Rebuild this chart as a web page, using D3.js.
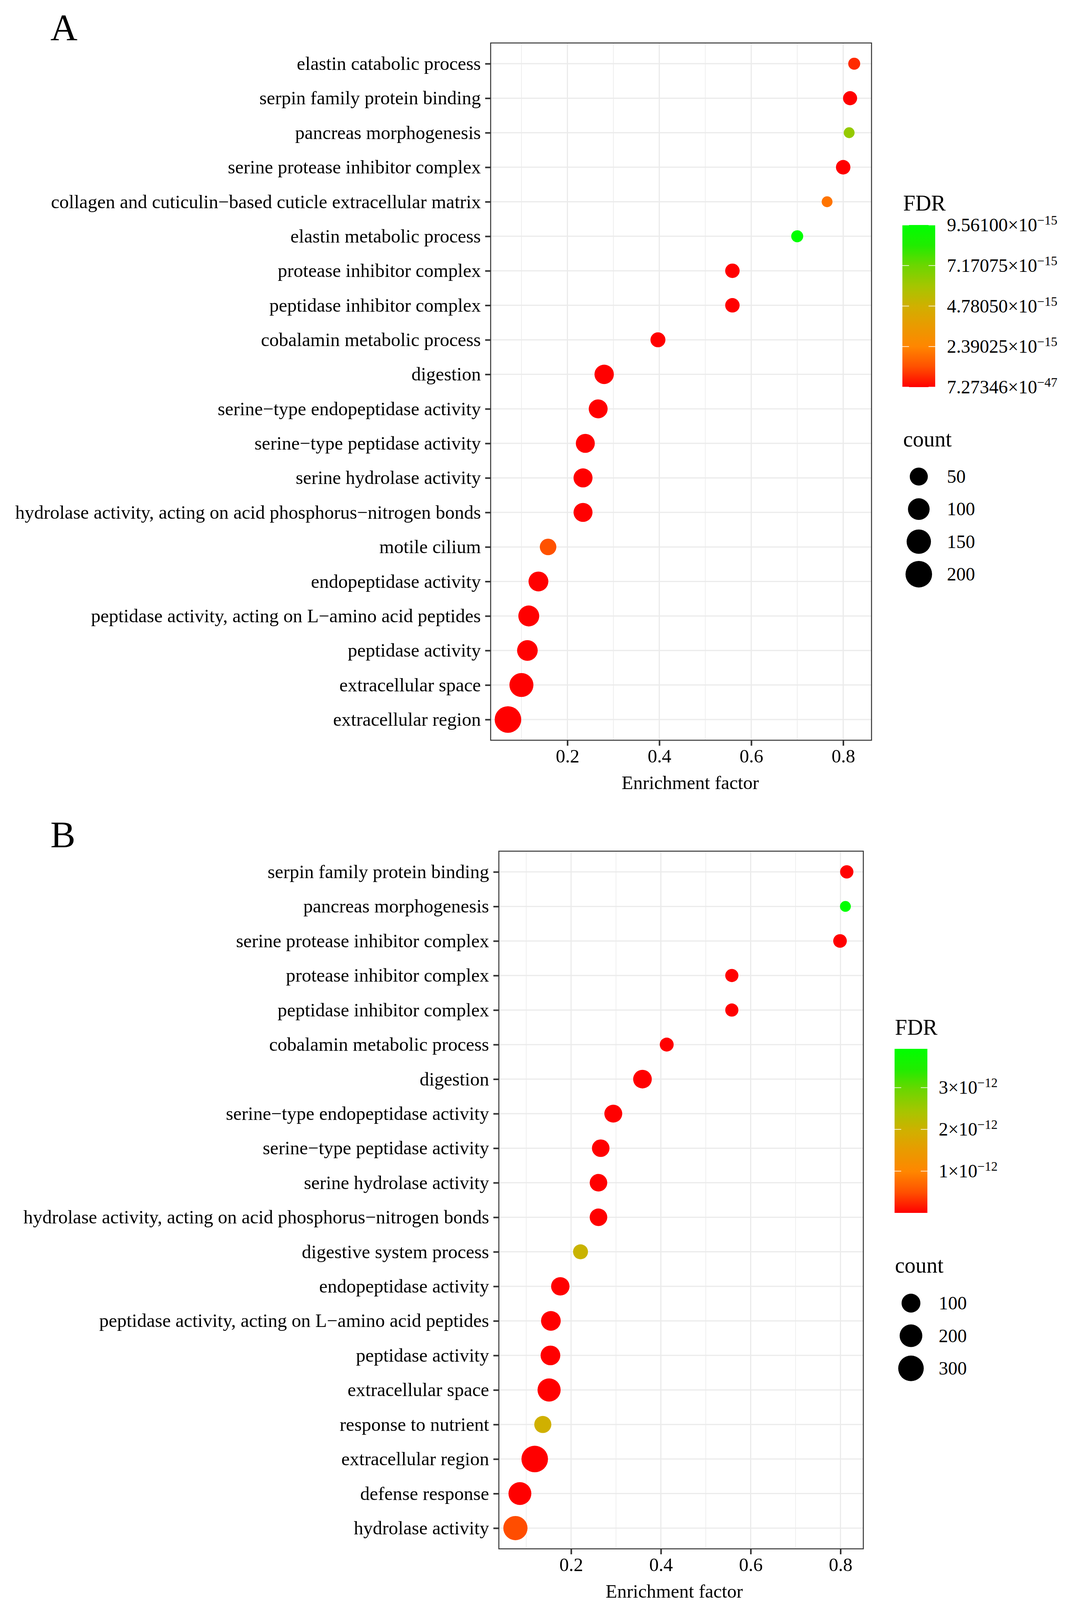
<!DOCTYPE html>
<html>
<head>
<meta charset="utf-8">
<script src="https://cdn.jsdelivr.net/npm/d3@7"></script>
<style>
html, body { margin: 0; padding: 0; background: #fff; }
svg text { font-family: "Liberation Serif", "Times New Roman", serif; fill: #000; }
</style>
</head>
<body>
<svg id="chart" width="2757" height="4123"></svg>
<script>
// ---- panel A data ----
var termsA = [
  "elastin catabolic process",
  "serpin family protein binding",
  "pancreas morphogenesis",
  "serine protease inhibitor complex",
  "collagen and cuticulin\u2212based cuticle extracellular matrix",
  "elastin metabolic process",
  "protease inhibitor complex",
  "peptidase inhibitor complex",
  "cobalamin metabolic process",
  "digestion",
  "serine\u2212type endopeptidase activity",
  "serine\u2212type peptidase activity",
  "serine hydrolase activity",
  "hydrolase activity, acting on acid phosphorus\u2212nitrogen bonds",
  "motile cilium",
  "endopeptidase activity",
  "peptidase activity, acting on L\u2212amino acid peptides",
  "peptidase activity",
  "extracellular space",
  "extracellular region"
];
var enrichA = [0.824, 0.815, 0.813, 0.800, 0.765, 0.700, 0.559, 0.559, 0.397, 0.280,
               0.267, 0.239, 0.234, 0.234, 0.158, 0.137, 0.116, 0.113, 0.100, 0.0707];
var countA = [11, 18, 10, 20, 10, 11, 20, 20, 23, 66,
              60, 61, 61, 61, 35, 72, 88, 84, 143, 200];
var fdrA = [0.62e-15, 2.1e-30, 6.3e-15, 5.4e-32, 2.0e-15, 9.561e-15, 3.2e-29, 3.2e-29, 1.5e-28, 4.1e-40,
            2.6e-36, 8.8e-35, 1.9e-34, 1.9e-34, 1.24e-15, 1.1e-31, 6.3e-33, 3.4e-31, 5.0e-42, 7.27346e-47];
var fdrTicksA = [7.27346e-47, 2.39025e-15, 4.78050e-15, 7.17075e-15, 9.56100e-15];
var fdrLabelsA = [["7.27346", "\u221247"], ["2.39025", "\u221215"], ["4.78050", "\u221215"],
                  ["7.17075", "\u221215"], ["9.56100", "\u221215"]];
var countTicksA = [50, 100, 150, 200];

// ---- panel B data ----
var termsB = [
  "serpin family protein binding",
  "pancreas morphogenesis",
  "serine protease inhibitor complex",
  "protease inhibitor complex",
  "peptidase inhibitor complex",
  "cobalamin metabolic process",
  "digestion",
  "serine\u2212type endopeptidase activity",
  "serine\u2212type peptidase activity",
  "serine hydrolase activity",
  "hydrolase activity, acting on acid phosphorus\u2212nitrogen bonds",
  "digestive system process",
  "endopeptidase activity",
  "peptidase activity, acting on L\u2212amino acid peptides",
  "peptidase activity",
  "extracellular space",
  "response to nutrient",
  "extracellular region",
  "defense response",
  "hydrolase activity"
];
var enrichB = [0.814, 0.811, 0.799, 0.558, 0.558, 0.413, 0.359, 0.294, 0.266, 0.261,
               0.261, 0.221, 0.176, 0.155, 0.154, 0.151, 0.137, 0.119, 0.086, 0.076];
var countB = [24, 16, 26, 23, 23, 28, 96, 81, 75, 75,
              75, 38, 91, 119, 119, 214, 67, 340, 205, 250];
var fdrB = [1.6e-25, 3.93e-12, 4.1e-27, 2.2e-19, 2.2e-19, 7.5e-20, 3.0e-45, 1.2e-33, 6.6e-30, 1.4e-29,
            1.4e-29, 2.04e-12, 8.0e-26, 2.3e-28, 5.5e-28, 1.0e-48, 1.97e-12, 3.1e-50, 6.4e-20, 0.47e-12];
var fdrTicksB = [1e-12, 2e-12, 3e-12];
var fdrLabelsB = [["1", "\u221212"], ["2", "\u221212"], ["3", "\u221212"]];
var countTicksB = [100, 200, 300];

var xTicks = [0.2, 0.4, 0.6, 0.8];
var xMinor = [0.1, 0.3, 0.5, 0.7];

// low -> high FDR colour ramp
var fdrPalette = ["#ff0000", "#ff5000", "#ff8600", "#ea9a00", "#d0b000", "#a4c600", "#6cd600", "#20ec00", "#00ff00"];

var svg = d3.select("#chart");

function drawPanel(p) {
  var rows = p.terms.map(function(t, i) {
    return { term: t, x: p.enrich[i], count: p.count[i], fdr: p.fdr[i] };
  });

  var ext = d3.extent(p.enrich), pad = (ext[1] - ext[0]) * 0.05;
  var x = d3.scaleLinear().domain([ext[0] - pad, ext[1] + pad]).range([p.left, p.right]);
  var y = d3.scalePoint().domain(p.terms).range([p.top, p.bottom]).padding(0.6);

  var cExt = d3.extent(p.count);
  var size = d3.scaleSqrt().domain([0, cExt[1] - cExt[0]]).range([13.9, 34]);
  var rad = function(c) { return size(c - cExt[0]); };

  var fExt = d3.extent(p.fdr);
  var stops = fdrPalette.map(function(c, i) { return fExt[0] + i / (fdrPalette.length - 1) * (fExt[1] - fExt[0]); });
  var color = d3.scaleLinear().domain(stops).range(fdrPalette).interpolate(d3.interpolateRgb);

  var g = svg.append("g");

  // panel letter
  g.append("text").attr("x", p.letter[0]).attr("y", p.letter[1])
    .style("font-size", "96px").text(p.name);

  // grid
  g.selectAll(".minor").data(xMinor.filter(function(v) { return x(v) > p.left && x(v) < p.right; }))
    .enter().append("line")
    .attr("x1", function(d) { return x(d); }).attr("x2", function(d) { return x(d); })
    .attr("y1", p.top).attr("y2", p.bottom)
    .attr("stroke", "#ebebeb").attr("stroke-width", 1.6);
  g.selectAll(".majx").data(xTicks).enter().append("line")
    .attr("x1", function(d) { return x(d); }).attr("x2", function(d) { return x(d); })
    .attr("y1", p.top).attr("y2", p.bottom)
    .attr("stroke", "#ebebeb").attr("stroke-width", 3);
  g.selectAll(".majy").data(p.terms).enter().append("line")
    .attr("x1", p.left).attr("x2", p.right)
    .attr("y1", function(d) { return y(d); }).attr("y2", function(d) { return y(d); })
    .attr("stroke", "#ebebeb").attr("stroke-width", 3);

  // points
  g.selectAll(".dot").data(rows).enter().append("circle")
    .attr("cx", function(d) { return x(d.x); })
    .attr("cy", function(d) { return y(d.term); })
    .attr("r", function(d) { return rad(d.count); })
    .attr("fill", function(d) { return color(d.fdr); });

  // border
  g.append("rect").attr("x", p.left).attr("y", p.top)
    .attr("width", p.right - p.left).attr("height", p.bottom - p.top)
    .attr("fill", "none").attr("stroke", "#333333").attr("stroke-width", 2.5);

  // axes
  var ax = g.append("g").attr("transform", "translate(0," + p.bottom + ")")
    .call(d3.axisBottom(x).tickValues(xTicks).tickSize(14).tickPadding(9).tickFormat(d3.format(".1f")));
  var ay = g.append("g").attr("transform", "translate(" + p.left + ",0)")
    .call(d3.axisLeft(y).tickSize(14).tickPadding(11));
  [ax, ay].forEach(function(a) {
    a.select(".domain").remove();
    a.selectAll(".tick line").attr("stroke", "#333333").attr("stroke-width", 4);
    a.selectAll(".tick text").attr("fill", "#000")
      .style("font-family", "'Liberation Serif', 'Times New Roman', serif")
      .style("font-size", "48.5px");
  });

  g.append("text").attr("x", p.xTitleX).attr("y", p.bottom + 125)
    .attr("text-anchor", "middle").style("font-size", "48.5px").text("Enrichment factor");

  // colour bar legend
  var L = p.legend;
  g.append("text").attr("x", L.titleX).attr("y", L.fdrTitleY).style("font-size", "56px").text("FDR");
  var gradId = "grad" + p.name;
  var grad = svg.append("defs").append("linearGradient").attr("id", gradId)
    .attr("x1", 0).attr("y1", 1).attr("x2", 0).attr("y2", 0);
  d3.range(41).forEach(function(i) {
    var t = i / 40;
    grad.append("stop").attr("offset", t).attr("stop-color", color(fExt[0] + t * (fExt[1] - fExt[0])));
  });
  var barY = d3.scaleLinear().domain(fExt).range([L.barBottom, L.barTop]);
  g.append("rect").attr("x", L.barX).attr("y", L.barTop)
    .attr("width", 84).attr("height", L.barBottom - L.barTop)
    .attr("fill", "url(#" + gradId + ")");
  p.fdrTicks.forEach(function(v, i) {
    var yy = barY(v);
    g.append("line").attr("x1", L.barX).attr("x2", L.barX + 17).attr("y1", yy).attr("y2", yy)
      .attr("stroke", "#fff").attr("stroke-width", 1.6);
    g.append("line").attr("x1", L.barX + 67).attr("x2", L.barX + 84).attr("y1", yy).attr("y2", yy)
      .attr("stroke", "#fff").attr("stroke-width", 1.6);
    var t = g.append("text").attr("x", L.labelX).attr("y", yy + 16).style("font-size", "48px");
    t.append("tspan").text(p.fdrLabels[i][0] + "\u00d710");
    t.append("tspan").attr("dy", -17).style("font-size", "33px").text(p.fdrLabels[i][1]);
  });

  // size legend
  g.append("text").attr("x", L.titleX).attr("y", L.countTitleY).style("font-size", "56px").text("count");
  p.countTicks.forEach(function(c, i) {
    var yy = L.row0 + i * L.rowStep;
    g.append("circle").attr("cx", L.barX + 42).attr("cy", yy).attr("r", rad(c)).attr("fill", "#000");
    g.append("text").attr("x", L.labelX).attr("y", yy + 16).style("font-size", "48px").text(c);
  });
}

drawPanel({
  name: "A", terms: termsA, enrich: enrichA, count: countA, fdr: fdrA,
  fdrTicks: fdrTicksA, fdrLabels: fdrLabelsA, countTicks: countTicksA,
  left: 1256, right: 2231, top: 110, bottom: 1895,
  letter: [129, 103], xTitleX: 1767,
  legend: { titleX: 2312, fdrTitleY: 539, barX: 2310, barTop: 576, barBottom: 991, labelX: 2424,
            countTitleY: 1143, row0: 1220, rowStep: 83.3 }
});

drawPanel({
  name: "B", terms: termsB, enrich: enrichB, count: countB, fdr: fdrB,
  fdrTicks: fdrTicksB, fdrLabels: fdrLabelsB, countTicks: countTicksB,
  left: 1277, right: 2210, top: 2179, bottom: 3965,
  letter: [129, 2169], xTitleX: 1726,
  legend: { titleX: 2291, fdrTitleY: 2649, barX: 2290, barTop: 2685, barBottom: 3105, labelX: 2403,
            countTitleY: 3258, row0: 3336, rowStep: 83.5 }
});
</script>
</body>
</html>
